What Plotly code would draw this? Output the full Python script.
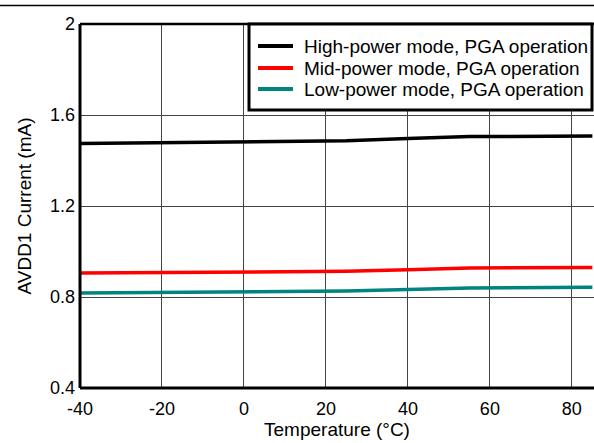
import plotly.graph_objects as go

temps = [-40, -20, 0, 25, 40, 55, 85]
high_power = [1.475, 1.478, 1.480, 1.487, 1.497, 1.505, 1.508]
mid_power = [0.905, 0.908, 0.910, 0.913, 0.920, 0.928, 0.930]
low_power = [0.818, 0.821, 0.823, 0.826, 0.833, 0.840, 0.843]
series_names = ["High-power mode, PGA operation", "Mid-power mode, PGA operation", "Low-power mode, PGA operation"]
colors = ["#000000", "#FF0000", "#008480"]
x_ticks = [-40, -20, 0, 20, 40, 60, 80]
x_ticktext = ["-40", "-20", "0", "20", "40", "60", "80"]
y_ticks = [0.4, 0.8, 1.2, 1.6, 2.0]
y_ticktext = ["0.4", "0.8", "1.2", "1.6", "2"]

W, H = 594, 443
ML, MR, MT, MB = 80, 0, 24, 55
PW, PH = W - ML - MR, H - MT - MB

def px_x(x):
    return (x - ML) / PW

def px_y(y):
    return (H - MB - y) / PH

fig = go.Figure()
for name, vals, c in zip(series_names, [high_power, mid_power, low_power], colors):
    fig.add_trace(go.Scatter(x=temps, y=vals, mode="lines", name=name,
                             line=dict(color=c, width=3.5), showlegend=False))

FAM = "Liberation Sans, Arial"
tickfont = dict(family=FAM, size=18, color="black")
titlefont = dict(family=FAM, size=19, color="black")
fig.update_layout(
    width=W, height=H,
    margin=dict(l=ML, r=MR, t=MT, b=MB, autoexpand=False),
    paper_bgcolor="white", plot_bgcolor="white",
    font=dict(family=FAM, size=16, color="black"),
    showlegend=False,
    xaxis=dict(range=[-40, 85.4], tickvals=x_ticks, ticktext=x_ticktext,
               tickfont=tickfont, ticklabelstandoff=8,
               showgrid=True, gridcolor="#444444", gridwidth=1,
               showline=False, zeroline=False, ticks="", automargin=False,
               title=dict(text="Temperature (°C)", standoff=0, font=titlefont)),
    yaxis=dict(range=[0.4, 2.0], tickvals=y_ticks, ticktext=y_ticktext,
               tickfont=tickfont, ticklabelstandoff=4,
               showgrid=True, gridcolor="#444444", gridwidth=1,
               showline=False, zeroline=False, ticks="", automargin=False,
               title=dict(text="AVDD1 Current (mA)", standoff=13, font=titlefont)),
)
# plot frame
fig.add_shape(type="line", xref="paper", yref="paper", x0=0, x1=0, y0=0, y1=1,
              line=dict(color="black", width=3))
fig.add_shape(type="line", xref="paper", yref="paper", x0=0, x1=1, y0=0, y1=0,
              line=dict(color="black", width=3))
fig.add_shape(type="line", xref="paper", yref="paper", x0=0, x1=1, y0=1, y1=1,
              line=dict(color="black", width=2.5))
# top separator line
fig.add_shape(type="line", xref="paper", yref="paper", x0=px_x(0), x1=px_x(W + 5),
              y0=px_y(5.5), y1=px_y(5.5), line=dict(color="black", width=1.5))

# legend box
fig.add_shape(type="rect", xref="paper", yref="paper",
              x0=px_x(249), x1=px_x(592), y0=px_y(110), y1=px_y(24),
              fillcolor="white", line=dict(color="black", width=3), layer="above")
row_y = [46, 68, 89]
for name, c, ry in zip(series_names, colors, row_y):
    fig.add_shape(type="line", xref="paper", yref="paper",
                  x0=px_x(258), x1=px_x(293), y0=px_y(ry), y1=px_y(ry),
                  line=dict(color=c, width=4), layer="above")
    fig.add_annotation(xref="paper", yref="paper", x=px_x(302), y=px_y(ry),
                       xanchor="left", yanchor="middle", showarrow=False,
                       text=name, font=dict(family=FAM, size=19, color="black"))

fig.write_html("out.html", config={"displayModeBar": False},
               post_script="document.body.style.margin='0';document.body.style.overflow='hidden';")
